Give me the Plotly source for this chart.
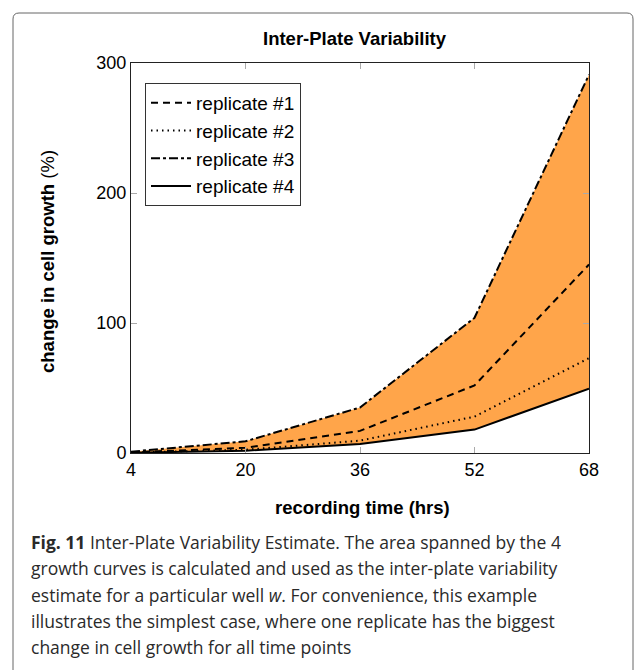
import plotly.graph_objects as go

time_hrs = [4, 20, 36, 52, 68]
replicate_1 = [0.5, 4, 17, 52, 145]
replicate_2 = [0.3, 2.5, 9.5, 28, 73]
replicate_3 = [1, 9, 35, 104, 291]
replicate_4 = [0.2, 1.8, 7, 18, 49.5]
series_names = ["replicate #1", "replicate #2", "replicate #3", "replicate #4"]
x_ticks = [4, 20, 36, 52, 68]
y_ticks = [0, 100, 200, 300]

caption_lines = [
    "<b>Fig. 11</b> Inter-Plate Variability Estimate. The area spanned by the 4",
    "growth curves is calculated and used as the inter-plate variability",
    "estimate for a particular well <i>w</i>. For convenience, this example",
    "illustrates the simplest case, where one replicate has the biggest",
    "change in cell growth for all time points",
]

W, H = 635, 670
L, R, T, B = 131, 589, 63, 453


def px(x):
    return (x - L) / (R - L)


def py(y):
    return (B - y) / (B - T)


fig = go.Figure()

# filled area between the lowest and highest replicate
fig.add_trace(go.Scatter(x=time_hrs, y=replicate_4, mode="lines",
                         line=dict(width=0, color="rgba(0,0,0,0)"),
                         showlegend=False, hoverinfo="skip"))
fig.add_trace(go.Scatter(x=time_hrs, y=replicate_3, mode="lines",
                         line=dict(width=0, color="rgba(0,0,0,0)"),
                         fill="tonexty", fillcolor="#FFA54A",
                         showlegend=False, hoverinfo="skip"))

dashes = ["7px,5px", "1.5px,4px", "dashdot", "solid"]
for name, vals, dash in zip(series_names,
                            [replicate_1, replicate_2, replicate_3, replicate_4],
                            dashes):
    fig.add_trace(go.Scatter(x=time_hrs, y=vals, mode="lines", name=name,
                             line=dict(color="black", width=2, dash=dash)))

axis_common = dict(showgrid=False, zeroline=False, showline=True,
                   linecolor="#222", linewidth=1, mirror="ticks",
                   ticks="inside", ticklen=6, tickcolor="#aaa",
                   tickfont=dict(family="Liberation Sans", size=18, color="black"))

fig.update_xaxes(range=[4, 68], tickvals=x_ticks, **axis_common)
fig.update_yaxes(range=[0, 300], tickvals=y_ticks, **axis_common)

fig.update_layout(
    width=W, height=H,
    margin=dict(l=L, r=W - R, t=T, b=H - B),
    paper_bgcolor="white", plot_bgcolor="white",
    showlegend=True,
    legend=dict(x=px(145), y=py(83), xanchor="left", yanchor="top",
                traceorder="normal",
                bgcolor="white", bordercolor="#333", borderwidth=1,
                font=dict(family="Liberation Sans", size=19, color="black"),
                itemwidth=40, tracegroupgap=0),
)

annotations = [
    dict(text="<b>Inter-Plate Variability</b>", x=px(355), y=py(38),
         xanchor="center", yanchor="middle",
         font=dict(family="Liberation Sans", size=18.5, color="black")),
    dict(text="<b>recording time (hrs)</b>", x=px(362), y=py(507),
         xanchor="center", yanchor="middle",
         font=dict(family="Liberation Sans", size=18.5, color="black")),
    dict(text="<b>change in cell growth</b> (%)", x=px(47), y=py(262),
         xanchor="center", yanchor="middle", textangle=-90,
         font=dict(family="Liberation Sans", size=18.5, color="black")),
]
for i, line in enumerate(caption_lines):
    annotations.append(dict(text=line, x=px(29), y=py(542 + i * 26.3),
                            xanchor="left", yanchor="middle", align="left",
                            font=dict(family="Open Sans", size=17.5, color="#2a2a2a")))
for a in annotations:
    a.update(xref="paper", yref="paper", showarrow=False)
fig.update_layout(annotations=annotations)

# outer rounded frame
r = 6
x0, y0, x1, y1 = 13, 13, 633, 700
path = (f"M {px(x0)},{py(y1)} L {px(x0)},{py(y0 + r)} "
        f"Q {px(x0)},{py(y0)} {px(x0 + r)},{py(y0)} "
        f"L {px(x1 - r)},{py(y0)} Q {px(x1)},{py(y0)} {px(x1)},{py(y0 + r)} "
        f"L {px(x1)},{py(y1)}")
fig.add_shape(type="path", path=path, xref="paper", yref="paper",
              line=dict(color="#666", width=1))

fig.write_html("out.html")
